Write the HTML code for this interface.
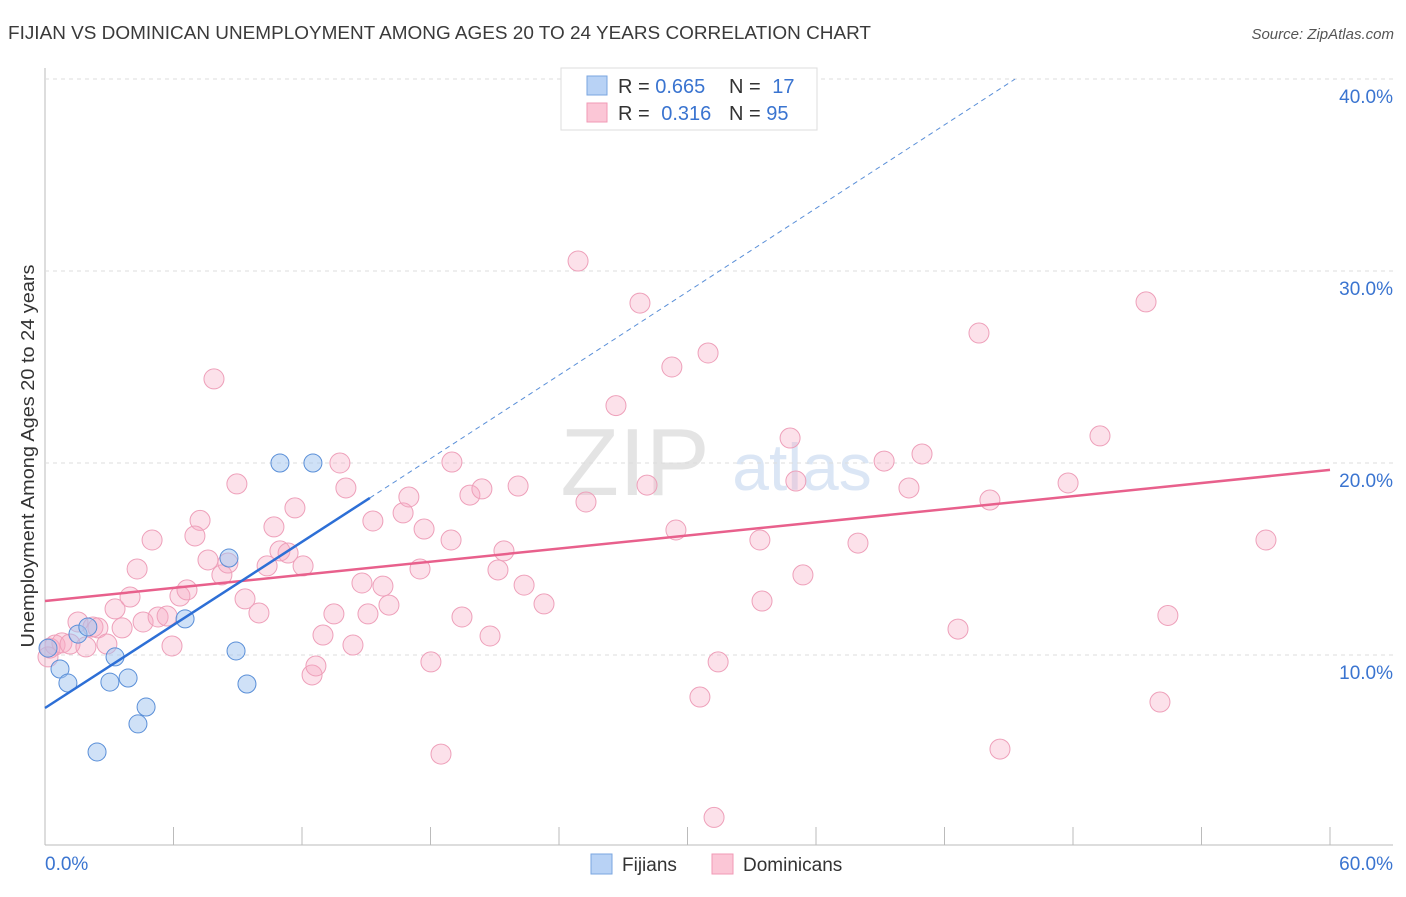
<!DOCTYPE html>
<html><head><meta charset="utf-8"><style>
body{margin:0;background:#fff;font-family:"Liberation Sans",sans-serif;}
svg text{font-family:"Liberation Sans",sans-serif;}
</style></head><body>
<svg id="c" width="1406" height="892" xmlns="http://www.w3.org/2000/svg">
<text x="8" y="39" font-size="18" fill="#3a3a3a" textLength="863" lengthAdjust="spacingAndGlyphs">FIJIAN VS DOMINICAN UNEMPLOYMENT AMONG AGES 20 TO 24 YEARS CORRELATION CHART</text>
<text x="1394" y="39" font-size="15" fill="#555" text-anchor="end" font-style="italic">Source: ZipAtlas.com</text>
<text x="0" y="0" transform="translate(34,456) rotate(-90)" font-size="18" fill="#333" text-anchor="middle" textLength="383" lengthAdjust="spacingAndGlyphs">Unemployment Among Ages 20 to 24 years</text>
<text x="635" y="495" font-size="96" fill="#e4e4e4" font-family="Liberation Serif" text-anchor="middle">ZIP</text>
<text x="802" y="490" font-size="66" fill="#dbe6f5" text-anchor="middle">atlas</text>
<g id="grid"></g><g id="marks"></g>
<g>
<rect x="561" y="68" width="256" height="62" fill="#fff" stroke="#ddd"/>
<rect x="587" y="76" width="20" height="19" fill="#b8d2f5" stroke="#7aa6e0"/>
<rect x="587" y="103" width="20" height="19" fill="#fbc6d6" stroke="#f09ab6"/>
<text x="618" y="93" font-size="20" fill="#333">R = <tspan fill="#3a74d0">0.665</tspan></text>
<text x="729" y="93" font-size="20" fill="#333">N = <tspan fill="#3a74d0" dx="6">17</tspan></text>
<text x="618" y="120" font-size="20" fill="#333">R = <tspan fill="#3a74d0" dx="6">0.316</tspan></text>
<text x="729" y="120" font-size="20" fill="#333">N = <tspan fill="#3a74d0">95</tspan></text>
</g>
<g>
<rect x="591" y="854" width="21" height="20" fill="#b8d2f5" stroke="#7aa6e0"/>
<text x="622" y="871" font-size="19" fill="#333">Fijians</text>
<rect x="712" y="854" width="21" height="20" fill="#fbc6d6" stroke="#f09ab6"/>
<text x="743" y="871" font-size="19" fill="#333">Dominicans</text>
</g>
</svg>
<script>
const xTicks=[0,6,12,18,24,30,36,42,48,54,60];
const yTicks=[10,20,30,40];
const yTickLabels=["10.0%","20.0%","30.0%","40.0%"];
const fijX=[0.14,0.70,1.07,1.54,2.00,3.03,3.27,3.88,4.72,4.34,2.43,6.54,8.59,8.92,9.43,10.97,12.51];
const fijY=[10.36,9.27,8.54,11.09,11.46,8.59,9.90,8.80,7.29,6.41,4.95,11.88,15.05,10.21,8.49,20.0,20.0];
const domX=[0.23,0.47,0.79,1.17,1.54,1.91,2.24,2.47,2.89,3.27,3.60,3.97,4.30,4.58,5.00,5.28,5.70,5.93,6.30,6.63,7.24,7.00,7.61,7.89,8.26,8.54,8.96,9.34,9.99,10.37,10.69,10.97,11.35,11.67,12.05,12.47,12.65,12.98,13.49,13.77,14.05,14.38,14.80,15.08,15.31,15.78,16.06,16.72,16.99,17.51,17.70,18.02,18.49,18.96,19.00,19.47,19.84,20.40,20.78,21.15,21.43,22.09,22.37,23.30,24.89,25.26,26.66,27.78,28.11,29.27,29.46,30.58,30.96,31.43,31.24,33.38,33.48,34.79,35.06,35.39,37.96,39.18,40.34,40.95,42.63,43.61,44.12,44.59,47.77,49.26,51.41,52.06,52.43,57.01,0.14];
const domY=[10.36,10.52,10.63,10.57,11.72,10.42,11.46,11.41,10.57,12.40,11.41,13.02,14.48,11.72,15.99,11.98,12.03,10.47,13.07,13.39,17.01,16.20,14.95,24.38,14.17,14.79,18.91,12.92,12.19,14.64,16.67,15.42,15.31,17.66,14.64,8.96,9.43,11.04,12.14,20.00,18.70,10.52,13.75,12.14,16.98,13.59,12.60,17.40,18.23,14.48,16.56,9.64,4.84,15.99,20.05,11.98,18.33,18.65,10.99,14.43,15.42,18.80,13.64,12.66,30.52,17.97,22.99,28.33,18.85,25.00,16.51,7.81,25.73,9.64,1.54,15.99,12.81,21.30,19.06,14.17,15.83,20.10,18.70,20.47,11.35,26.77,18.07,5.10,18.96,21.41,28.39,7.55,12.06,15.99,9.90];
const fijLine=[[0,7.24],[15.17,18.18]];
const fijDash=[[15.17,18.18],[45.3,40]];
const domLine=[[0,12.81],[60,19.64]];
const X=v=>45+v*(1285/60);
const Y=v=>847-v*19.2;
const NS="http://www.w3.org/2000/svg";
function mk(tag,attrs,parent){const e=document.createElementNS(NS,tag);for(const k in attrs)e.setAttribute(k,attrs[k]);parent.appendChild(e);return e;}
const grid=document.getElementById('grid'),marks=document.getElementById('marks');
const ax=mk('line',{x1:45,y1:68,x2:45,y2:845,stroke:'#bbb'},grid);


const bx=mk('line',{x1:45,y1:845,x2:1393,y2:845,stroke:'#bbb'},grid);


yTicks.forEach((t,i)=>{
 const g=mk('line',{x1:45,y1:Y(t),x2:1393,y2:Y(t),stroke:'#ddd','stroke-dasharray':'4,4'},grid);
 
 
 const l=mk('text',{x:1393,y:Y(t)+24,'font-size':19,fill:'#3a74d0','text-anchor':'end'},grid);l.textContent=yTickLabels[i];
 
 
});
xTicks.forEach(t=>{
 const l=mk('line',{x1:X(t),y1:827,x2:X(t),y2:845,stroke:'#bbb'},grid);
 
 
});
const x0=mk('text',{x:45,y:870,'font-size':19,fill:'#3a74d0'},grid);x0.textContent='0.0%';


const x1=mk('text',{x:1393,y:870,'font-size':19,fill:'#3a74d0','text-anchor':'end'},grid);x1.textContent='60.0%';


domX.forEach((v,i)=>{
 const c=mk('circle',{cx:X(v),cy:Y(domY[i]),r:10,fill:'rgba(246,170,195,0.35)',stroke:'#eea0ba','stroke-width':1},marks);
 
 
});
fijX.forEach((v,i)=>{
 const c=mk('circle',{cx:X(v),cy:Y(fijY[i]),r:9,fill:'rgba(160,195,240,0.5)',stroke:'#5a8fd8','stroke-width':1},marks);
 
 
});
const dl=mk('line',{x1:X(domLine[0][0]),y1:Y(domLine[0][1]),x2:X(domLine[1][0]),y2:Y(domLine[1][1]),stroke:'#e8608c','stroke-width':2.5},marks);


const fl=mk('line',{x1:X(fijLine[0][0]),y1:Y(fijLine[0][1]),x2:X(fijLine[1][0]),y2:Y(fijLine[1][1]),stroke:'#2d6fd6','stroke-width':2.5},marks);


const fd=mk('line',{x1:X(fijDash[0][0]),y1:Y(fijDash[0][1]),x2:X(fijDash[1][0]),y2:Y(fijDash[1][1]),stroke:'#5a8fd8','stroke-width':1,'stroke-dasharray':'5,4'},marks);


</script>
</body></html>
